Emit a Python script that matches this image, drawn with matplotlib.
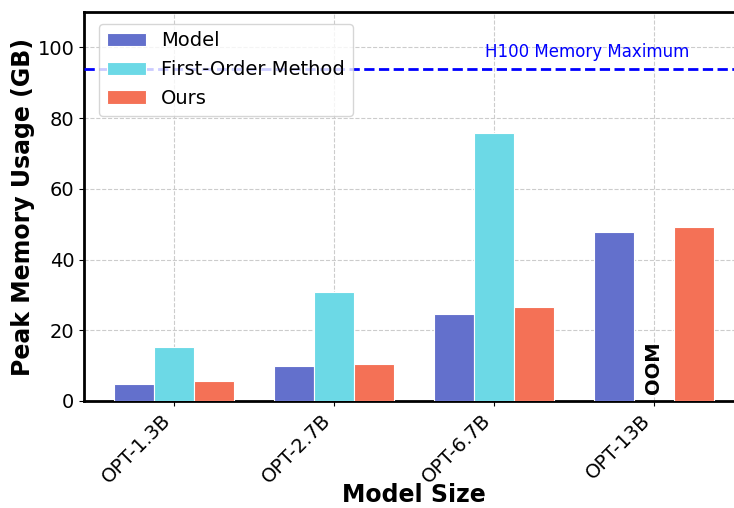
import numpy as np
import matplotlib
matplotlib.use('Agg')
import matplotlib.pyplot as plt

# model sizes and peak memory (GB)
models = ['OPT-1.3B', 'OPT-2.7B', 'OPT-6.7B', 'OPT-13B']
model_mem = [4.8, 9.9, 24.5, 47.8]
first_order_mem = [15.2, 30.8, 75.7, np.nan]  # OOM on 13B
ours_mem = [5.6, 10.5, 26.6, 49.1]
h100_max = 94

fig = plt.figure(figsize=(7.34, 5.08), dpi=100)
# axes run past the right edge like the cropped original
ax = fig.add_axes([84 / 734, 107 / 508, 660 / 734, 389 / 508])

x = np.arange(len(models))
w = 0.25
ax.bar(x - w, model_mem, w, color='#6370CC', edgecolor='white', linewidth=0.8, label='Model', zorder=3)
ax.bar(x, first_order_mem, w, color='#6CD9E6', edgecolor='white', linewidth=0.8, label='First-Order Method', zorder=3)
ax.bar(x + w, ours_mem, w, color='#F47156', edgecolor='white', linewidth=0.8, label='Ours', zorder=3)

ax.axhline(h100_max, color='blue', linestyle='--', linewidth=2, zorder=4)
ax.text(2.58, 98.6, 'H100 Memory Maximum', color='blue', fontsize=12, ha='center', va='center')

# first-order method runs out of memory on the largest model
ax.text(3, 2, 'OOM', rotation=90, fontsize=14, fontweight='bold', ha='center', va='bottom')

ax.set_xlim(-0.5625, 3.5625)
ax.set_ylim(0, 110)
ax.set_xticks(x)
ax.set_xticklabels(models, rotation=45, ha='right', fontsize=14)
ax.tick_params(axis='y', labelsize=14)
ax.set_xlabel('Model Size', fontsize=17, fontweight='bold', labelpad=-3)
ax.set_ylabel('Peak Memory Usage (GB)', fontsize=17, fontweight='bold', labelpad=2)
ax.grid(True, linestyle='--', color='#cccccc', linewidth=0.8, zorder=0)
for s in ax.spines.values():
    s.set_linewidth(2)
    s.set_color('black')

ax.legend(loc='upper left', fontsize=14, bbox_to_anchor=(0.005, 1.0), borderaxespad=0.6)

fig.savefig('out.png', dpi=100)
